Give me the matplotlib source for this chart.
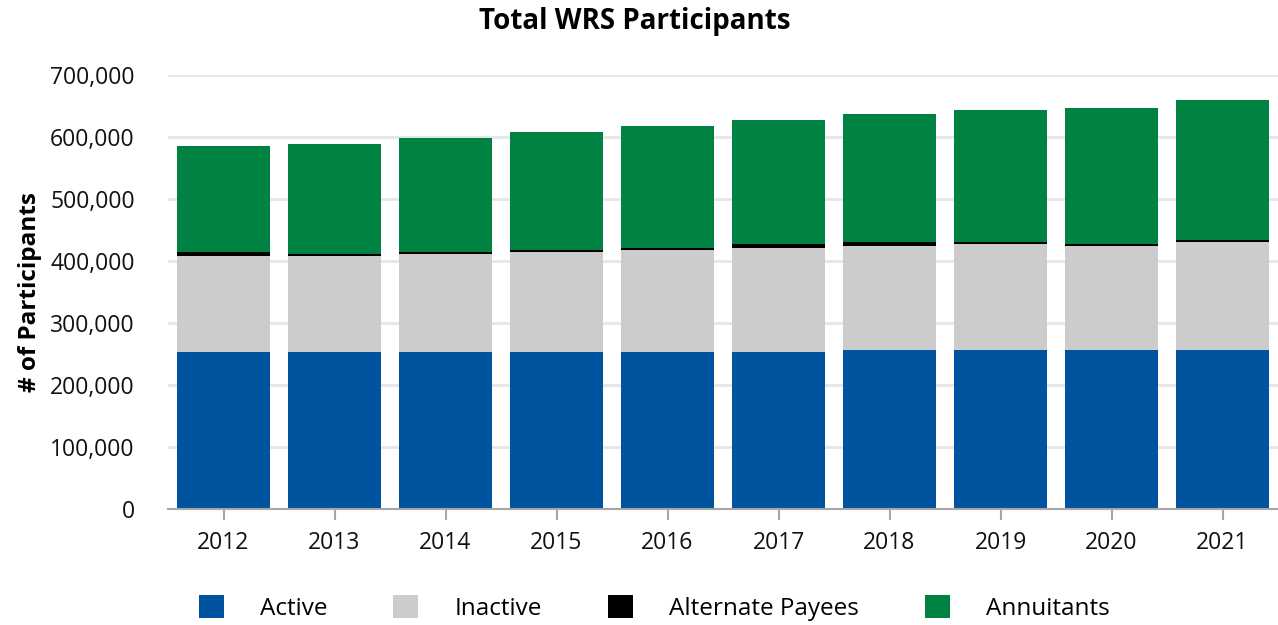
import matplotlib.pyplot as plt
from matplotlib.patches import Patch
from matplotlib.ticker import FuncFormatter
import numpy as np

plt.rcParams['font.family'] = ['Open Sans', 'DejaVu Sans']

# 年度ごとの参加者数（グラフから読み取った概算値）
years = ['2012', '2013', '2014', '2015', '2016', '2017', '2018', '2019', '2020', '2021']
active = [253000, 253000, 253000, 253000, 253000, 253000, 256500, 256500, 256500, 256500]
inactive = [155000, 155000, 158000, 161500, 164500, 168000, 167500, 170500, 167500, 174000]
alternate_payees = [6500, 3000, 3500, 3500, 3500, 6000, 6500, 3500, 3500, 3500]
annuitants = [171500, 177500, 183500, 190000, 196500, 200000, 206500, 213000, 219500, 226000]

series = [
    ("Active", active, '#00549f'),
    ("Inactive", inactive, '#cccccc'),
    ("Alternate Payees", alternate_payees, '#000000'),
    ("Annuitants", annuitants, '#008242'),
]

fig = plt.figure(figsize=(12.78, 6.25), dpi=100)
ax = fig.add_axes([168 / 1278, 116 / 625, 1110 / 1278, 434 / 625])

x = np.arange(len(years))
bottom = np.zeros(len(years))
for name, vals, color in series:
    ax.bar(x, vals, width=0.83, bottom=bottom, color=color, label=name, zorder=3)
    bottom += np.array(vals)

ax.set_xlim(-0.5, len(years) - 0.5)
ax.set_ylim(0, 700000)
ax.set_yticks(range(0, 700001, 100000))
ax.yaxis.set_major_formatter(FuncFormatter(lambda v, p: f"{int(v):,}"))
ax.set_xticks(x)
ax.set_xticklabels(years)

# グリッドと軸の見た目
ax.grid(axis='y', color='#e6e6e6', linewidth=2, zorder=0)
for s in ['top', 'right', 'left']:
    ax.spines[s].set_visible(False)
ax.spines['bottom'].set_color('#a6a6a6')
ax.spines['bottom'].set_linewidth(1.5)
ax.spines['bottom'].set_zorder(4)
ax.tick_params(axis='y', length=0, labelsize=16.5, pad=24, labelcolor='#111111')
ax.tick_params(axis='x', length=8, width=1.5, color='#a6a6a6', labelsize=16.5, pad=8,
               labelcolor='#111111')

ax.set_ylabel("# of Participants", fontsize=17.5, fontweight='bold', labelpad=6)
fig.text(0.497, 0.965, "Total WRS Participants", ha='center', va='center',
         fontsize=20, fontweight='bold')

handles = [Patch(facecolor=c, label=n) for n, _, c in series]
fig.legend(handles=handles, loc='center', bbox_to_anchor=(0.512, 0.027), ncol=4,
           frameon=False, fontsize=17.5, handlelength=1.03, handleheight=1.03,
           handletextpad=1.5, columnspacing=2.7)

fig.savefig("out.png", dpi=100)
